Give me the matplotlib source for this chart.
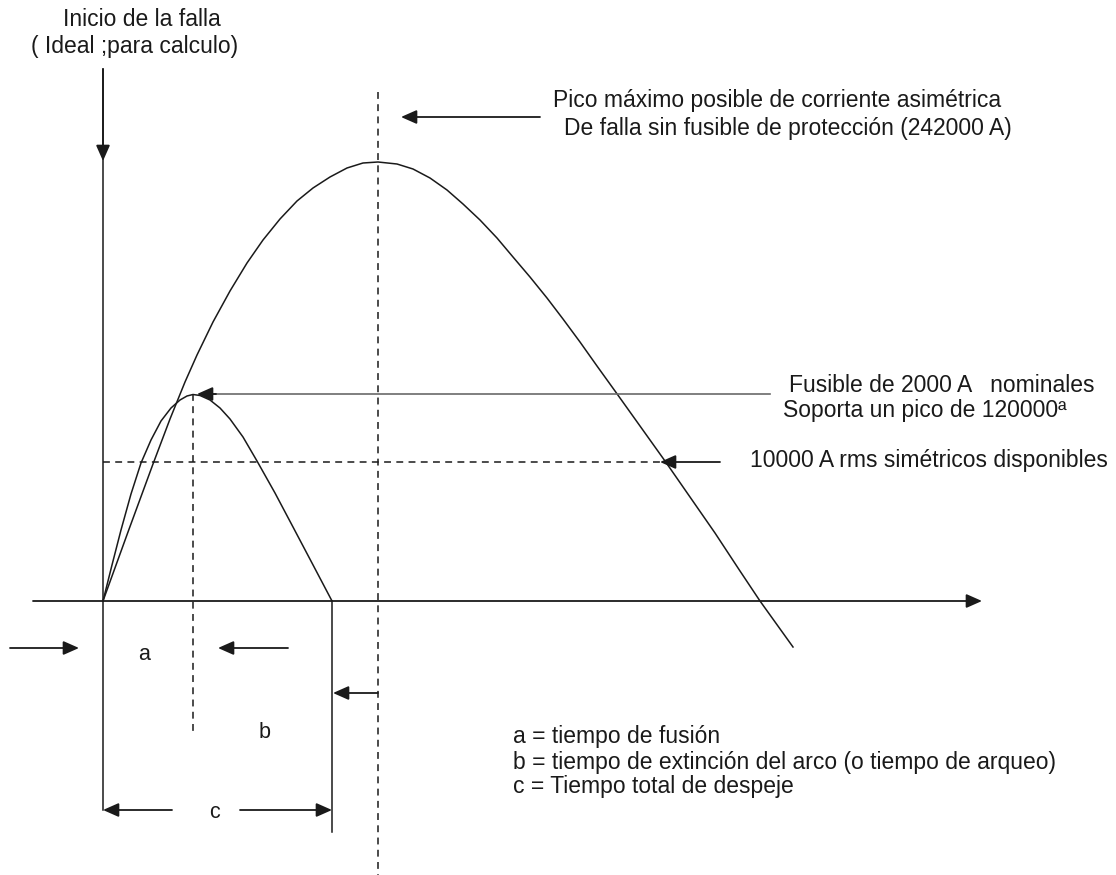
import matplotlib

matplotlib.use("Agg")
import matplotlib.pyplot as plt

# Diagram drawn in image-pixel coordinates (x right, y down)
W, H = 1116, 875

# prospective (unfused) asymmetric fault current
FAULT_X = [103, 128, 153, 170, 185, 197, 213, 230, 247, 263, 280, 297, 313, 330,
           347, 363, 378, 397, 413, 430, 447, 463, 480, 497, 513, 530, 547, 563,
           580, 597, 615, 640, 665, 690, 715, 740, 760, 793]
FAULT_Y = [601, 532, 464, 419, 382, 355, 322, 291, 263, 240, 219, 201, 188, 177,
           168, 163, 162, 164, 169, 178, 190, 204, 220, 238, 257, 277, 298, 319,
           342, 366, 391, 426, 461, 497, 533, 571, 601, 647]

# let-through current of the 2000 A fuse
FUSE_X = [103, 112, 121, 131, 141, 151, 161, 171, 180, 187, 193, 200, 210, 220,
          230, 243, 257, 275, 293, 312, 332]
FUSE_Y = [601, 565, 530, 494, 463, 440, 421, 408, 400, 396, 394.5, 395.5, 400,
          408, 419, 437, 461, 493, 527, 563, 601]

ORIGIN = (103, 601)
PEAK_X = 378
MELT_X = 193
CLEAR_X = 332
RMS_Y = 462
FUSE_PEAK_Y = 394

LEGEND_LINES = [
    "a = tiempo de fusión",
    "b = tiempo de extinción del arco (o tiempo de arqueo)",
    "c = Tiempo total de despeje",
]

INK = "#1a1a1a"
FONT = "Liberation Sans"
FS = 16.5

fig = plt.figure(figsize=(W / 100, H / 100), dpi=100)
ax = fig.add_axes([0, 0, 1, 1])
ax.set_xlim(0, W)
ax.set_ylim(H, 0)
ax.axis("off")

line_kw = dict(color=INK, lw=1.1)
dash_kw = dict(color=INK, lw=1.1, ls=(0, (4.5, 3.5)))


def arrow(x0, y0, x1, y1, color=INK):
    ax.annotate("", xy=(x1, y1), xytext=(x0, y0),
                arrowprops=dict(arrowstyle="-|>,head_length=0.95,head_width=0.42",
                                mutation_scale=10, color=color, lw=1.3,
                                shrinkA=0, shrinkB=0))


def label(x, y, s, ha="left", fs=FS):
    ax.text(x, y, s, ha=ha, va="center", fontsize=fs, family=FONT, color=INK)


# curves
ax.plot(FAULT_X, FAULT_Y, **line_kw)
ax.plot(FUSE_X, FUSE_Y, **line_kw)

# axes of the diagram
arrow(33, ORIGIN[1], 982, ORIGIN[1])
ax.plot([ORIGIN[0], ORIGIN[0]], [69, 810], **line_kw)
arrow(ORIGIN[0], 69, ORIGIN[0], 161)

# dashed guides
ax.plot([PEAK_X, PEAK_X], [92, H], **dash_kw)
ax.plot([MELT_X, MELT_X], [FUSE_PEAK_Y, 735], **dash_kw)
ax.plot([ORIGIN[0], 660], [RMS_Y, RMS_Y], **dash_kw)

# annotations with arrows
arrow(540, 117, 401, 117)
ax.plot([212, 770], [FUSE_PEAK_Y, FUSE_PEAK_Y], color="#6a6a6a", lw=1.2)
arrow(216, FUSE_PEAK_Y, 197, FUSE_PEAK_Y)
arrow(720, RMS_Y, 660, RMS_Y)

# time intervals below the axis
ax.plot([CLEAR_X, CLEAR_X], [ORIGIN[1], 832], **line_kw)
arrow(10, 648, 79, 648)
arrow(288, 648, 218, 648)
arrow(PEAK_X, 693, CLEAR_X + 1, 693)
arrow(172, 810, ORIGIN[0], 810)
arrow(240, 810, CLEAR_X, 810)

label(144, 655, "a", ha="center", fs=15.5)
label(265, 733, "b", ha="center", fs=15.5)
label(214, 813, "c", ha="center", fs=15.5)

# texts
label(141.5, 19, "Inicio de la falla", ha="center")
label(135, 47, "( Ideal ;para calculo)", ha="center")
label(553, 100, "Pico máximo posible de corriente asimétrica")
label(564, 128, "De falla sin fusible de protección (242000 A)")
label(789, 385, "Fusible de 2000 A   nominales")
label(783, 411, "Soporta un pico de 120000ª")
label(750, 461, "10000 A rms simétricos disponibles")

for i, s in enumerate(LEGEND_LINES):
    label(513, 737 + i * 25, s)

fig.savefig("out.png", dpi=100)
